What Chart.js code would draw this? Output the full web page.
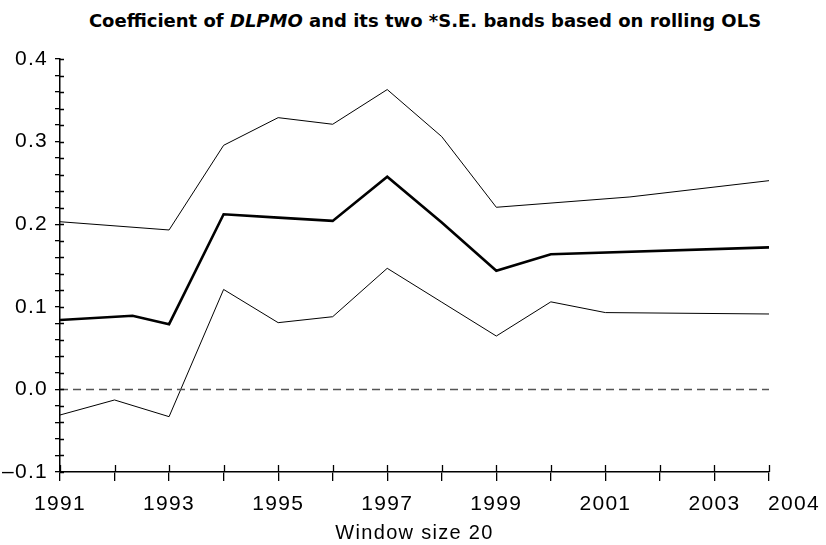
<!DOCTYPE html>
<html>
<head>
<meta charset="utf-8">
<script src="https://cdn.jsdelivr.net/npm/chart.js@4/dist/chart.umd.min.js"></script>
<style>
  html, body { margin: 0; padding: 0; background: #fff; }
  #wrap { position: relative; width: 826px; height: 545px; }
  #title {
    position: absolute; left: 0; top: 10px; width: 850px;
    text-align: center; font-family: "DejaVu Sans", sans-serif;
    font-weight: bold; font-size: 18px; color: #000; white-space: nowrap;
  }
  canvas { position: absolute; left: 0; top: 0; }
</style>
</head>
<body>
<div id="wrap">
  <div id="title">Coefficient of <i>DLPMO</i> and its two *S.E. bands based on rolling OLS</div>
  <canvas id="c" width="826" height="545"></canvas>
</div>
<script>
// Rolling-window estimates (window size 20)
const upperYears = [1991, 1993, 1994, 1995, 1996, 1997, 1998, 1999, 2001.45, 2004];
const upperBand  = [0.203, 0.193, 0.2955, 0.329, 0.321, 0.363, 0.306, 0.2205, 0.233, 0.2527];

const coefYears = [1991, 1992.33, 1993, 1994, 1995, 1996, 1997, 1998, 1999, 2000, 2004];
const coefValues = [0.084, 0.0892, 0.079, 0.212, 0.208, 0.204, 0.2575, 0.202, 0.1437, 0.1636, 0.172];

const lowerYears = [1991, 1992, 1993, 1994, 1995, 1996, 1997, 1998, 1999, 2000, 2001, 2004];
const lowerBand  = [-0.031, -0.0128, -0.033, 0.121, 0.0808, 0.088, 0.1466, 0.1056, 0.0646, 0.106, 0.093, 0.0913];

const zeroYears = [1991, 2004];
const zeroLine  = [0, 0];

// Axis labels (the last year label sits to the right of its tick)
const NB = '\u00a0';
const xTickLabels = {1991: '1991', 1993: '1993', 1995: '1995', 1997: '1997', 1999: '1999', 2001: '2001', 2003: '2003', 2004: NB.repeat(7) + '2004'};
const yTickLabels = {'-10': '\u20130.1', '0': '0.0', '10': '0.1', '20': '0.2', '30': '0.3', '40': '0.4'};
const xAxisTitle = 'Window size 20';

const pts = (xs, ys) => xs.map((x, i) => ({ x: x, y: ys[i] }));

const fontFamily = '"Liberation Sans", Arial, sans-serif';
const tickFont = { family: fontFamily, size: 21 };

// Slightly open letter spacing for all canvas text
const spacing = {
  id: 'spacing',
  beforeDraw(chart) { chart.ctx.letterSpacing = '1.3px'; }
};

// Tick marks that cross the axis lines (inner half)
const crossTicks = {
  id: 'crossTicks',
  afterDraw(chart) {
    const { ctx, chartArea, scales } = chart;
    ctx.save();
    ctx.strokeStyle = '#000';
    ctx.lineWidth = 1.3;
    ctx.beginPath();
    scales.y.ticks.forEach((t, i) => {
      const py = Math.round(scales.y.getPixelForTick(i)) + 0.5;
      ctx.moveTo(chartArea.left, py);
      ctx.lineTo(chartArea.left + 4, py);
    });
    scales.x.ticks.forEach((t, i) => {
      const px = Math.round(scales.x.getPixelForTick(i)) + 0.5;
      ctx.moveTo(px, chartArea.bottom);
      ctx.lineTo(px, chartArea.bottom - 7);
    });
    ctx.stroke();
    ctx.restore();
  }
};

new Chart(document.getElementById('c'), {
  type: 'line',
  data: {
    datasets: [
      { data: pts(zeroYears, zeroLine), borderColor: '#555', borderWidth: 1.5, borderDash: [8, 5] },
      { data: pts(upperYears, upperBand), borderColor: '#000', borderWidth: 1 },
      { data: pts(lowerYears, lowerBand), borderColor: '#000', borderWidth: 1 },
      { data: pts(coefYears, coefValues), borderColor: '#000', borderWidth: 2.6 }
    ]
  },
  options: {
    responsive: false,
    animation: false,
    events: [],
    elements: { point: { radius: 0 }, line: { tension: 0, borderJoinStyle: 'miter' } },
    layout: { padding: { left: 0, top: 59, right: 57, bottom: 0 } },
    plugins: { legend: { display: false }, tooltip: { enabled: false }, title: { display: false } },
    scales: {
      x: {
        type: 'linear', min: 1991, max: 2004,
        afterFit(s) { s.height = 73; },
        afterBuildTicks(s) { s.ticks = []; for (let y = 1991; y <= 2004; y++) s.ticks.push({ value: y }); },
        ticks: {
          autoSkip: false, maxRotation: 0, color: '#000', font: tickFont, padding: 11,
          callback: v => xTickLabels[v] || ''
        },
        grid: { drawOnChartArea: false, drawTicks: true, tickLength: 9, color: '#000', lineWidth: 1.3 },
        border: { display: true, color: '#000', width: 1.5 },
        title: { display: true, text: xAxisTitle, color: '#000', font: { family: fontFamily, size: 20 }, padding: { top: 0, bottom: 0 } }
      },
      y: {
        min: -0.1, max: 0.4,
        afterFit(s) { s.width = 60; },
        afterBuildTicks(s) { s.ticks = []; for (let k = -10; k <= 40; k += 2) s.ticks.push({ value: k / 100 }); },
        ticks: {
          autoSkip: false, color: '#000', font: tickFont, padding: 7,
          callback: v => yTickLabels[String(Math.round(v * 100))] || ''
        },
        grid: { drawOnChartArea: false, drawTicks: true, tickLength: 5, color: '#000', lineWidth: 1.3 },
        border: { display: true, color: '#000', width: 1.5 }
      }
    }
  },
  plugins: [spacing, crossTicks]
});
</script>
</body>
</html>
